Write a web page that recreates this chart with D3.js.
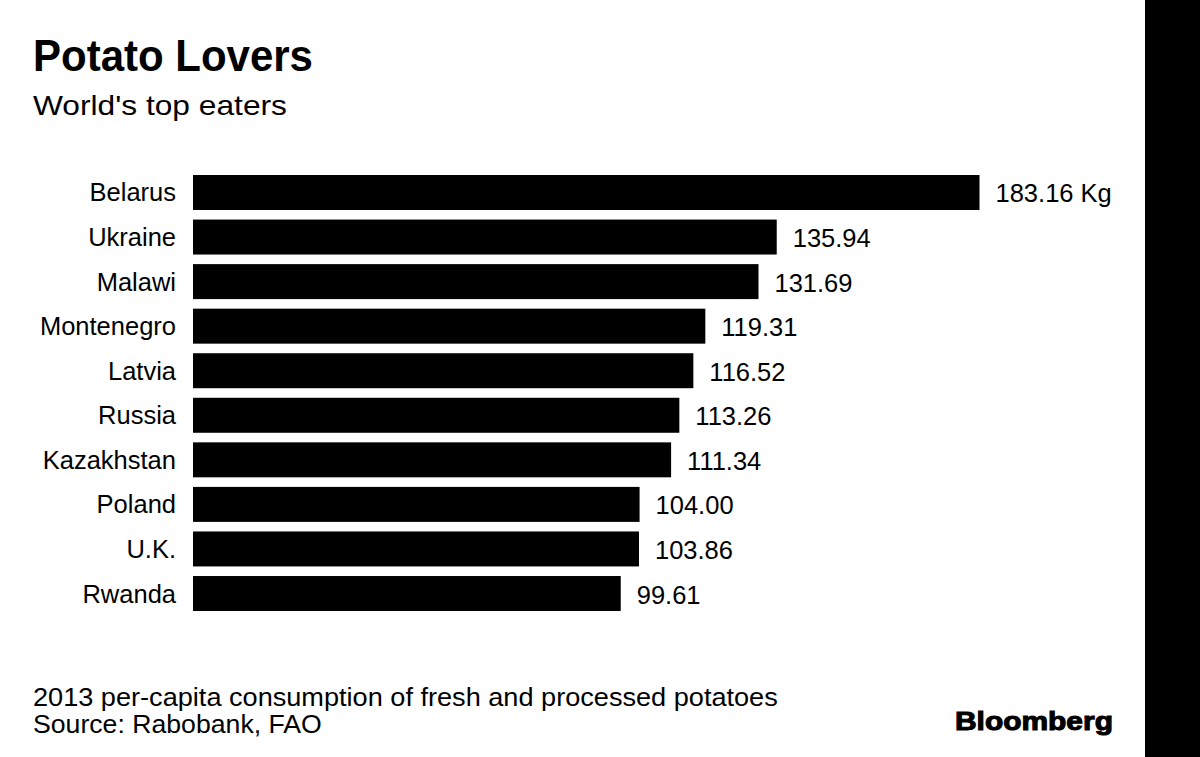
<!DOCTYPE html>
<html>
<head>
<meta charset="utf-8">
<script src="https://cdn.jsdelivr.net/npm/d3@7"></script>
<style>
  html, body { margin: 0; padding: 0; background: #fff; }
  svg { display: block; }
  text { font-family: "Liberation Sans", Arial, Helvetica, sans-serif; fill: #000; }
</style>
</head>
<body>
<svg id="chart" width="1200" height="757"></svg>
<script>
const countries = ["Belarus", "Ukraine", "Malawi", "Montenegro", "Latvia", "Russia", "Kazakhstan", "Poland", "U.K.", "Rwanda"];
const consumption = [183.16, 135.94, 131.69, 119.31, 116.52, 113.26, 111.34, 104.00, 103.86, 99.61];
const unitLabel = " Kg";
const titleText = "Potato Lovers";
const subtitleText = "World's top eaters";
const footnotes = ["2013 per-capita consumption of fresh and processed potatoes", "Source: Rabobank, FAO"];
const brandText = "Bloomberg";

const svg = d3.select("#chart");
const W = 1200, H = 757;

// right black strip
svg.append("rect").attr("x", 1145).attr("y", 0).attr("width", W - 1145).attr("height", H).attr("fill", "#000");

// helper: place text at (x, y) and stretch horizontally to a target width
function fitWidth(sel, x0, y0, target) {
  sel.attr("x", 0).attr("y", 0);
  const w = sel.node().getComputedTextLength();
  sel.attr("transform", `translate(${x0},${y0}) scale(${(target / w).toFixed(4)},1)`);
}

const title = svg.append("text").attr("font-size", 44).attr("font-weight", "bold").text(titleText);
fitWidth(title, 33, 71, 280);

const sub = svg.append("text").attr("font-size", 28).text(subtitleText);
fitWidth(sub, 33, 115, 254);

const x = d3.scaleLinear().domain([0, d3.max(consumption)]).range([193, 979.5]);
const y = d3.scaleBand().domain(countries).range([175, 611]).paddingInner(0.215).paddingOuter(0);

const data = countries.map((c, i) => ({ c, v: consumption[i], i }));

svg.append("g").selectAll("rect").data(data).join("rect")
  .attr("x", x(0))
  .attr("y", d => y(d.c))
  .attr("width", d => x(d.v) - x(0))
  .attr("height", y.bandwidth())
  .attr("fill", "#000");

svg.append("g").selectAll("text").data(data).join("text")
  .attr("x", 176)
  .attr("y", d => y(d.c) + y.bandwidth() / 2 + 9)
  .attr("text-anchor", "end")
  .attr("font-size", 25.5)
  .text(d => d.c);

const fmt = d3.format(".2f");
svg.append("g").selectAll("text").data(data).join("text")
  .attr("x", d => x(d.v) + 16)
  .attr("y", d => y(d.c) + y.bandwidth() / 2 + 10)
  .attr("font-size", 25.5)
  .text(d => fmt(d.v) + (d.i === 0 ? unitLabel : ""));

const f1 = svg.append("text").attr("font-size", 25).text(footnotes[0]);
fitWidth(f1, 33, 705.5, 745);
const f2 = svg.append("text").attr("font-size", 25).text(footnotes[1]);
fitWidth(f2, 33, 733, 289);

// brand
const brand = svg.append("text")
  .attr("font-size", 25).attr("font-weight", "bold")
  .attr("stroke", "#000").attr("stroke-width", 1)
  .text(brandText);
fitWidth(brand, 955, 729.5, 158);
</script>
</body>
</html>
